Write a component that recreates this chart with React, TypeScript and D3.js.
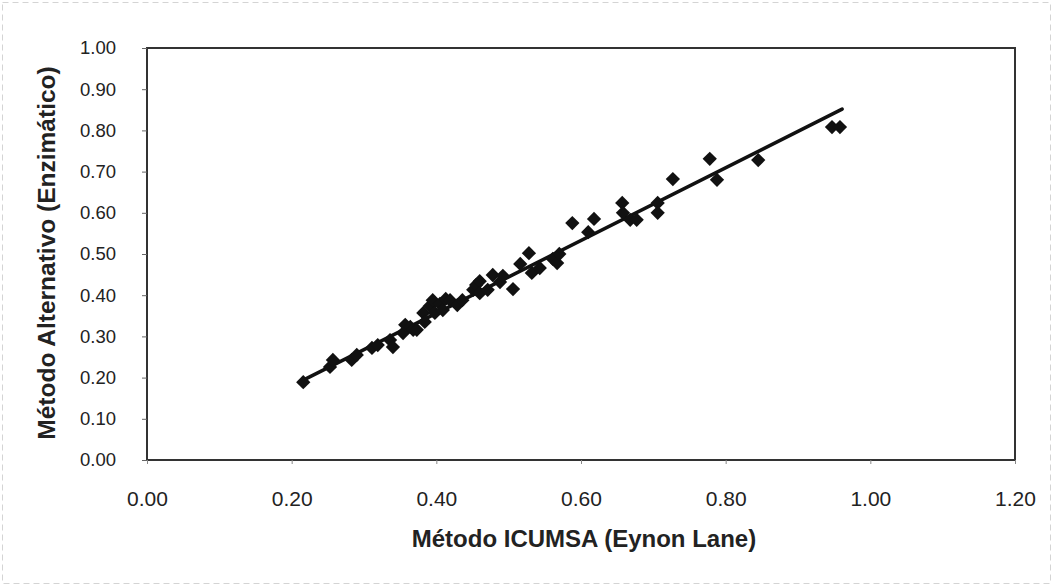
import React, { useEffect, useRef } from "react";
import * as d3 from "d3";

// values
const icumsa = [
  0.216, 0.253, 0.257, 0.283, 0.29, 0.311, 0.319, 0.336, 0.34, 0.354, 0.357,
  0.364, 0.368, 0.373, 0.382, 0.384, 0.391, 0.395, 0.398, 0.405, 0.409, 0.413,
  0.419, 0.429, 0.436, 0.451, 0.455, 0.46, 0.46, 0.471, 0.478, 0.488, 0.492,
  0.506, 0.516, 0.528, 0.532, 0.543, 0.561, 0.567, 0.57, 0.588, 0.61, 0.618,
  0.657, 0.658, 0.668, 0.677, 0.706, 0.706, 0.727, 0.778, 0.788, 0.845, 0.947,
  0.958,
];
const enzimatico = [
  0.189, 0.226, 0.243, 0.243, 0.255, 0.272, 0.279, 0.291, 0.274, 0.308, 0.328,
  0.323, 0.316, 0.316, 0.357, 0.335, 0.374, 0.388, 0.357, 0.379, 0.364, 0.391,
  0.388, 0.376, 0.388, 0.413, 0.425, 0.434, 0.405, 0.413, 0.449, 0.432, 0.447,
  0.415, 0.476, 0.502, 0.454, 0.466, 0.488, 0.478, 0.5, 0.575, 0.553, 0.585,
  0.624, 0.6, 0.583, 0.583, 0.624, 0.6, 0.682, 0.731, 0.68, 0.728, 0.808,
  0.808,
];
const xTicks = [0, 0.2, 0.4, 0.6, 0.8, 1.0, 1.2];
const yTicks = [0, 0.1, 0.2, 0.3, 0.4, 0.5, 0.6, 0.7, 0.8, 0.9, 1.0];
const trendSlope = 0.883;
const trendIntercept = 0.003;
const trendRange = [0.216, 0.961];

const xTitle = "Método ICUMSA (Eynon Lane)";
const yTitle = "Método Alternativo (Enzimático)";

const width = 1053;
const height = 586;
const left = 147;
const right = 1015;
const top = 48;
const bottom = 460;
const font = "'Liberation Sans', Arial, sans-serif";

const drawChart = (el: SVGSVGElement) => {
  const svg = d3.select(el);
  svg.selectAll("*").remove();

  const x = d3.scaleLinear().domain([0, 1.2]).range([left, right]);
  const y = d3.scaleLinear().domain([0, 1]).range([bottom, top]);

  // scan border
  svg
    .append("rect")
    .attr("x", 2.5)
    .attr("y", 2.5)
    .attr("width", width - 5)
    .attr("height", height - 5)
    .attr("fill", "none")
    .attr("stroke", "#d4d4d4")
    .attr("stroke-dasharray", "6,4");

  // plot frame
  svg
    .append("rect")
    .attr("x", left)
    .attr("y", top)
    .attr("width", right - left)
    .attr("height", bottom - top)
    .attr("fill", "#fff")
    .attr("stroke", "#333")
    .attr("stroke-width", 2);

  // y axis
  const yAxis = svg
    .append("g")
    .attr("transform", `translate(${left},0)`)
    .call(
      d3
        .axisLeft(y)
        .tickValues(yTicks)
        .tickFormat(d3.format(".2f"))
        .tickSize(5)
        .tickPadding(26)
    );
  yAxis.select(".domain").remove();
  yAxis.selectAll("line").attr("stroke", "#666");
  yAxis
    .selectAll("text")
    .attr("font-family", font)
    .attr("font-size", 18.5)
    .attr("fill", "#222");

  // x axis
  const xAxis = svg
    .append("g")
    .attr("transform", `translate(0,${bottom})`)
    .call(
      d3
        .axisBottom(x)
        .tickValues(xTicks)
        .tickFormat(d3.format(".2f"))
        .tickSize(4)
        .tickPadding(27)
    );
  xAxis.select(".domain").remove();
  xAxis.selectAll("line").attr("stroke", "#888");
  xAxis
    .selectAll("text")
    .attr("font-family", font)
    .attr("font-size", 21)
    .attr("fill", "#222");

  // trend line
  svg
    .append("line")
    .attr("x1", x(trendRange[0]))
    .attr("y1", y(trendSlope * trendRange[0] + trendIntercept))
    .attr("x2", x(trendRange[1]))
    .attr("y2", y(trendSlope * trendRange[1] + trendIntercept))
    .attr("stroke", "#111")
    .attr("stroke-width", 3.5)
    .attr("stroke-linecap", "round");

  // points
  const diamond = d3.symbol().type(d3.symbolDiamond2).size(130);
  svg
    .append("g")
    .selectAll("path")
    .data(icumsa)
    .join("path")
    .attr("d", diamond)
    .attr("transform", (d, i) => `translate(${x(d)},${y(enzimatico[i])})`)
    .attr("fill", "#111");

  // titles
  svg
    .append("text")
    .attr("x", 584)
    .attr("y", 547)
    .attr("text-anchor", "middle")
    .attr("font-family", font)
    .attr("font-weight", "bold")
    .attr("font-size", 24)
    .attr("fill", "#222")
    .text(xTitle);

  svg
    .append("text")
    .attr("transform", `translate(55,253) rotate(-90)`)
    .attr("text-anchor", "middle")
    .attr("font-family", font)
    .attr("font-weight", "bold")
    .attr("font-size", 24.5)
    .attr("fill", "#222")
    .text(yTitle);
};

export default function App() {
  const ref = useRef<SVGSVGElement>(null);
  useEffect(() => {
    if (ref.current) drawChart(ref.current);
  }, []);
  return (
    <svg
      ref={ref}
      width={width}
      height={height}
      style={{ position: "absolute", left: 0, top: 0, background: "#fff" }}
    />
  );
}
